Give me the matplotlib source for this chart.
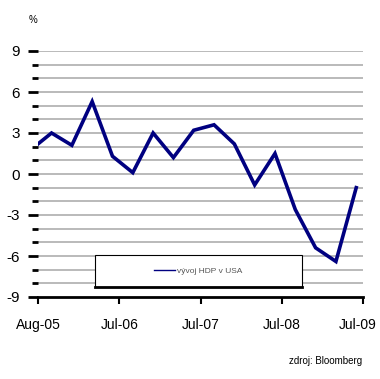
import matplotlib.pyplot as plt
import matplotlib.transforms as mtransforms
from matplotlib.patches import Rectangle
from matplotlib.lines import Line2D

# vyvoj HDP v USA, ctvrtletne (mesice od Aug-05)
mesice = [0, 2, 5, 8, 11, 14, 17, 20, 23, 26, 29, 32, 35, 38, 41, 44, 47]
hdp = [2.2, 3.0, 2.1, 5.3, 1.3, 0.1, 3.0, 1.2, 3.2, 3.6, 2.2, -0.8, 1.5, -2.6, -5.4, -6.4, -1.0]

xtick_pos = [0, 12, 24, 36, 48]
xtick_lab = ['Aug-05', 'Jul-06', 'Jul-07', 'Jul-08', 'Jul-09']
ytick_pos = [-9, -6, -3, 0, 3, 6, 9]

plt.rcParams['font.family'] = ['Liberation Sans Narrow', 'Liberation Sans', 'DejaVu Sans']

fig = plt.figure(figsize=(3.8, 3.79), dpi=100)
ax = fig.add_axes([38/380, 82/379, 325/380, 246/379])

# mrizka po jednom procentu
for v in range(-8, 10):
    ax.axhline(v, color='#b4b4b4', lw=1.3, zorder=1)

ax.plot(mesice, hdp, color='#000080', lw=2.6, solid_joinstyle='miter', zorder=3)

ax.set_xlim(0, 48)
ax.set_ylim(-9, 9)
ax.set_xticks(xtick_pos)
ax.set_xticklabels(xtick_lab, fontsize=10)
ax.set_yticks(ytick_pos)
ax.set_yticklabels([str(v) for v in ytick_pos], fontsize=11)
ax.set_yticks(range(-9, 10), minor=True)

ax.tick_params(axis='y', which='major', length=7, width=2, color='black', pad=6)
ax.tick_params(axis='y', which='minor', length=4, width=2, color='black')
ax.tick_params(axis='x', which='major', length=5, width=1.5, color='black', pad=10)

# posledni popisek trochu doleva, at se vejde
lab = ax.get_xticklabels()[-1]
lab.set_transform(lab.get_transform() + mtransforms.ScaledTranslation(-5/100, 0, fig.dpi_scale_trans))

for s in ['top', 'right', 'left']:
    ax.spines[s].set_visible(False)
ax.spines['bottom'].set_linewidth(2)
ax.spines['bottom'].set_zorder(4)

# ramecek legendy
x0, x1 = (95 - 38) / 325, (302 - 38) / 325
y0, y1 = (92 - 82) / 246, (124 - 82) / 246
ax.add_patch(Rectangle((x0, y0), x1 - x0, y1 - y0, transform=ax.transAxes,
                       facecolor='white', edgecolor='black', lw=0.8, zorder=5))
ax.plot([x0, x1], [y0, y0], color='black', lw=2, transform=ax.transAxes, zorder=6)

h = Line2D([], [], color='#000080', lw=1)
leg = ax.legend([h], ['vývoj HDP v USA'], loc='center',
                bbox_to_anchor=((x0 + x1) / 2, (y0 + y1) / 2), fontsize=6,
                frameon=False, handlelength=2.5, handletextpad=0.3)
for t in leg.get_texts():
    t.set_color('#555555')
leg.set_zorder(7)

fig.text(33/380, 1 - 20/379, '%', fontsize=7, ha='center', va='center')
fig.text(326/380, 1 - 361/379, 'zdroj: Bloomberg', fontsize=7, ha='center', va='center')

fig.savefig('out.png', dpi=100)
